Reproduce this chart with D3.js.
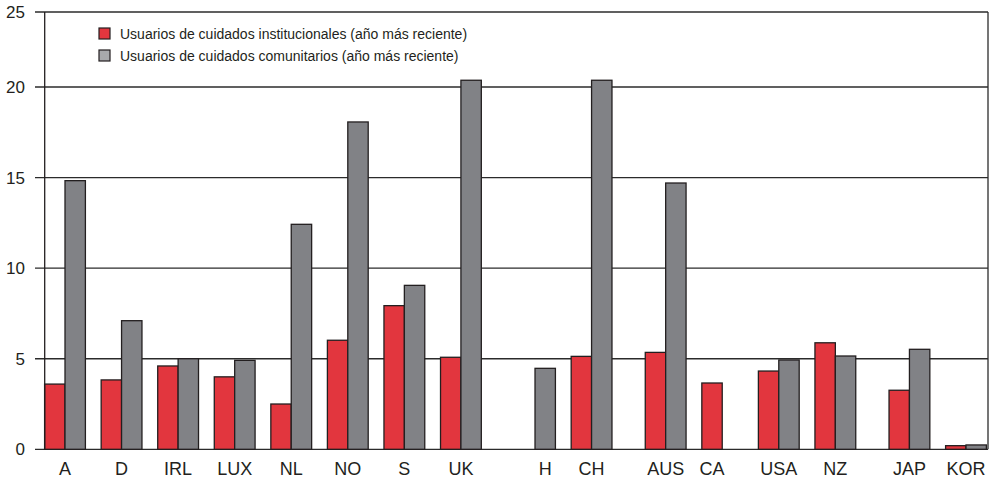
<!DOCTYPE html>
<html>
<head>
<meta charset="utf-8">
<script src="https://cdn.jsdelivr.net/npm/d3@7/dist/d3.min.js"></script>
<style>
  html, body { margin: 0; padding: 0; background: #fff; }
  svg { display: block; font-family: "Liberation Sans", Arial, sans-serif; }
</style>
</head>
<body>
<svg id="chart" width="991" height="480"></svg>
<script>
// Country codes, in drawing order
const countries = ["A", "D", "IRL", "LUX", "NL", "NO", "S", "UK",
                   "H", "CH",
                   "AUS", "CA", "USA", "NZ",
                   "JAP", "KOR"];
// Cluster each country belongs to (clusters are separated by a small gap)
const clusters = ["eu", "eu", "eu", "eu", "eu", "eu", "eu", "eu",
                  "other-eu", "other-eu",
                  "anglo", "anglo", "anglo", "anglo",
                  "asia", "asia"];

const seriesNames = [
  "Usuarios de cuidados institucionales (año más reciente)",
  "Usuarios de cuidados comunitarios (año más reciente)"
];
// Institutional care users (%), null = no data
const institutional = [3.6, 3.83, 4.6, 4.0, 2.5, 6.02, 7.93, 5.08,
                       null, 5.13,
                       5.35, 3.66, 4.32, 5.88,
                       3.26, 0.2];
// Community care users (%), null = no data
const community = [14.83, 7.1, 5.0, 4.91, 12.42, 18.07, 9.05, 20.45,
                   4.47, 20.45,
                   14.7, null, 4.93, 5.15,
                   5.52, 0.24];

const yTicks = [0, 5, 10, 15, 20, 25];
const colors = ["#e2363e", "#818286"];
const legendColors = ["#e2363e", "#a8a9ac"];

const svg = d3.select("#chart");

// Plot frame
const plotLeft = 44.7, plotRight = 988, plotTop = 12, plotBottom = 449.3, tickOut = 9.7;

// The top band (20–25) is drawn compressed
const y = d3.scaleLinear().domain([0, 20, 25]).range([plotBottom, 87, plotTop]);

// Horizontal slot for each country: index plus a gap between clusters
const clusterGap = 0.31;
const clusterOrder = Array.from(new Set(clusters));
const slots = countries.map((c, i) => i + clusterOrder.indexOf(clusters[i]) * clusterGap);
const x = d3.scaleLinear()
  .domain([0, slots[slots.length - 1]])
  .range([65, 966]);

// Two side-by-side bars per country
const barW = 20.4;
const sub = d3.scaleBand().domain([0, 1]).range([-barW, barW]).paddingInner(0);

// Gridlines (include the 0 baseline and 25 top line)
svg.append("g")
  .selectAll("line")
  .data(yTicks)
  .join("line")
  .attr("x1", plotLeft - tickOut)
  .attr("x2", plotRight)
  .attr("y1", d => y(d))
  .attr("y2", d => y(d))
  .attr("stroke", "#2b2b2b")
  .attr("stroke-width", 1.3);

// Y axis labels
svg.append("g")
  .selectAll("text")
  .data(yTicks)
  .join("text")
  .attr("x", 25)
  .attr("y", d => y(d))
  .attr("dy", "0.36em")
  .attr("text-anchor", "end")
  .attr("font-size", 17)
  .attr("fill", "#231f20")
  .text(d => d);

// Bars
const rows = countries.map((c, i) => ({
  country: c,
  cx: x(slots[i]),
  values: [institutional[i], community[i]]
}));

const bars = [];
rows.forEach(r => r.values.forEach((v, k) => {
  if (v !== null) bars.push({ cx: r.cx, k, v });
}));

svg.append("g")
  .selectAll("rect")
  .data(bars)
  .join("rect")
  .attr("x", d => d.cx + sub(d.k))
  .attr("width", sub.bandwidth())
  .attr("y", d => y(d.v))
  .attr("height", d => y(0) - y(d.v))
  .attr("fill", d => colors[d.k])
  .attr("stroke", "#231f20")
  .attr("stroke-width", 1.3);

// Left axis line and right border
svg.append("line")
  .attr("x1", plotLeft).attr("x2", plotLeft)
  .attr("y1", plotTop).attr("y2", plotBottom)
  .attr("stroke", "#231f20").attr("stroke-width", 1.3);
svg.append("line")
  .attr("x1", plotRight).attr("x2", plotRight)
  .attr("y1", plotTop).attr("y2", plotBottom)
  .attr("stroke", "#2b2b2b").attr("stroke-width", 1.3);

// Country labels, centred under the bars that are present
svg.append("g")
  .selectAll("text")
  .data(rows)
  .join("text")
  .attr("x", r => {
    const present = r.values.map((v, k) => v !== null ? r.cx + sub(k) + sub.bandwidth() / 2 : null)
      .filter(v => v !== null);
    return d3.mean(present);
  })
  .attr("y", 475)
  .attr("text-anchor", "middle")
  .attr("font-size", 18)
  .attr("fill", "#231f20")
  .text(r => r.country);

// Legend
const legend = svg.append("g").attr("transform", "translate(99,28)");
seriesNames.forEach((name, k) => {
  const g = legend.append("g").attr("transform", `translate(0,${k * 22})`);
  g.append("rect")
    .attr("width", 11).attr("height", 11)
    .attr("fill", legendColors[k])
    .attr("stroke", "#231f20").attr("stroke-width", 1.2);
  g.append("text")
    .attr("x", 21).attr("y", 10.5)
    .attr("font-size", 14)
    .attr("fill", "#231f20")
    .text(name);
});
</script>
</body>
</html>
